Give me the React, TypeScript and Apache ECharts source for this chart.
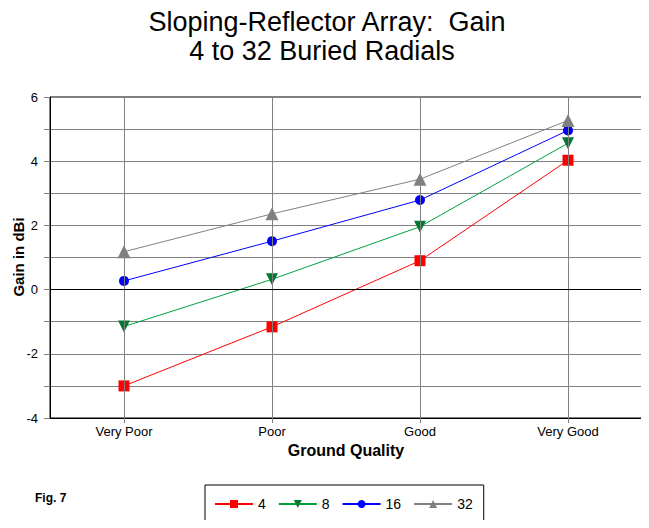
import React, { useEffect, useRef } from "react";
import * as echarts from "echarts";

const categories = ["Very Poor", "Poor", "Good", "Very Good"];
const radials4 = [-3.0, -1.16, 0.9, 4.03];
const radials8 = [-1.15, 0.32, 1.96, 4.56];
const radials16 = [0.27, 1.51, 2.79, 4.96];
const radials32 = [1.18, 2.36, 3.44, 5.27];
const seriesNames = ["4", "8", "16", "32"];
const titleLine1 = "Sloping-Reflector Array:  Gain";
const titleLine2 = "4 to 32 Buried Radials";
const yAxisTitle = "Gain in dBi";

const FONT = "'Liberation Sans', Arial, sans-serif";

export default function App() {
  const ref = useRef<HTMLDivElement>(null);
  useEffect(() => {
    if (!ref.current) return;
    const chart = echarts.init(ref.current, undefined, { renderer: "svg" });
    const mk = (name: string, data: number[], color: string, symbol: string, size: number, markerColor?: string) => ({
      name,
      type: "line",
      data,
      symbol,
      symbolSize: size,
      z: 3,
      lineStyle: { color, width: 1 },
      itemStyle: { color: markerColor || color },
      emphasis: { disabled: true },
    });
    const gridLines: any = {
      name: "_grid",
      type: "line",
      data: [],
      z: 1,
      silent: true,
      markLine: {
        silent: true,
        symbol: ["none", "none"],
        label: { show: false },
        emphasis: { disabled: true },
        data: [
          ...categories.map((c) => ({ xAxis: c, lineStyle: { color: "#808080", width: 1, type: "solid" } })),
          { yAxis: 0, lineStyle: { color: "#000000", width: 1, type: "solid" } },
        ],
      },
    };
    const s8: any = mk(seriesNames[1], radials8, "#00A040", "triangle", 12, "#007A30");
    s8.symbolRotate = 180;
    const option: any = {
      animation: false,
      backgroundColor: "#ffffff",
      textStyle: { fontFamily: FONT },
      title: [
        {
          text: titleLine1,
          left: 322,
          top: 3,
          textAlign: "center",
          textStyle: { fontFamily: FONT, fontSize: 27, fontWeight: "normal", color: "#000" },
        },
        {
          text: titleLine2,
          left: 317,
          top: 32,
          textAlign: "center",
          textStyle: { fontFamily: FONT, fontSize: 27, fontWeight: "normal", color: "#000" },
        },
      ],
      grid: {
        left: 50,
        right: 7,
        top: 97,
        bottom: 110,
        outerBoundsMode: "none",
        containLabel: false,
        show: true,
        borderColor: "#000000",
        borderWidth: 1,
        backgroundColor: "transparent",
      },
      xAxis: {
        type: "category",
        data: categories,
        boundaryGap: true,
        name: "Ground Quality",
        nameLocation: "middle",
        nameGap: 24,
        nameTextStyle: { fontFamily: FONT, fontSize: 16, fontWeight: "bold", color: "#000" },
        axisLine: { show: true, onZero: false, lineStyle: { color: "#000", width: 1 } },
        axisTick: { show: true, alignWithLabel: true, length: 5, lineStyle: { color: "#808080" } },
        axisLabel: { fontFamily: FONT, fontSize: 13, color: "#000", margin: 7 },
        splitLine: { show: false },
      },
      yAxis: {
        type: "value",
        min: -4,
        max: 6,
        interval: 1,
        axisLine: { show: true, lineStyle: { color: "#000", width: 1 } },
        axisTick: { show: true, length: 6, lineStyle: { color: "#808080" } },
        axisLabel: {
          fontFamily: FONT,
          fontSize: 13,
          color: "#000",
          margin: 12,
          formatter: (v: number) => (Math.round(v) % 2 === 0 ? String(v) : ""),
        },
        splitLine: { show: true, lineStyle: { color: "#808080", width: 1 } },
      },
      legend: {
        data: seriesNames,
        left: 205,
        top: 485,
        orient: "horizontal",
        borderColor: "#000",
        borderWidth: 1,
        borderRadius: 0,
        padding: [12, 11, 12, 9],
        itemWidth: 38,
        itemHeight: 10,
        itemGap: 12,
        textStyle: { fontFamily: FONT, fontSize: 14, color: "#000" },
        selectedMode: false,
      },
      graphic: [
        {
          type: "text",
          x: 18,
          y: 257,
          rotation: Math.PI / 2,
          style: {
            text: yAxisTitle,
            font: `bold 15px ${FONT}`,
            fill: "#000",
            align: "center",
            verticalAlign: "middle",
          },
        },
        {
          type: "text",
          left: 35,
          top: 492,
          style: { text: "Fig. 7", font: `bold 12px ${FONT}`, fill: "#000" },
        },
      ],
      series: [
        gridLines,
        mk(seriesNames[0], radials4, "#FF0000", "rect", 11),
        s8,
        mk(seriesNames[2], radials16, "#0000FF", "circle", 10),
        mk(seriesNames[3], radials32, "#808080", "triangle", 13),
      ],
    };
    chart.setOption(option);
    return () => chart.dispose();
  }, []);
  return <div ref={ref} style={{ width: 649, height: 528, margin: -8 }} />;
}
